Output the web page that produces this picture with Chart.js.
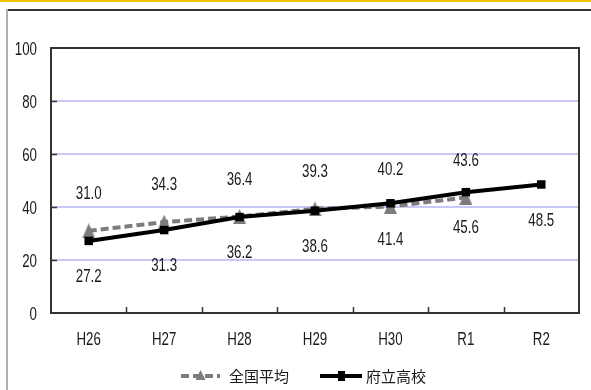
<!DOCTYPE html>
<html>
<head>
<meta charset="utf-8">
<script src="https://cdn.jsdelivr.net/npm/chart.js@4/dist/chart.umd.min.js"></script>
<style>
  html, body { margin: 0; padding: 0; background: #fff; }
  canvas { display: block; }
</style>
</head>
<body>
<canvas id="trendChart" width="591" height="390"></canvas>
<script>
// categories and series
const categories = ['H26', 'H27', 'H28', 'H29', 'H30', 'R1', 'R2'];
const nationalAvg = [31.0, 34.3, 36.4, 39.3, 40.2, 43.6, null];
const prefSchools = [27.2, 31.3, 36.2, 38.6, 41.4, 45.6, 48.5];
const yTicks = [0, 20, 40, 60, 80, 100];

const sans = "'Liberation Sans', Arial, sans-serif";
const cjk = "'Noto Sans CJK JP', 'Noto Sans CJK SC', sans-serif";
const textColor = '#1a1a1a';
const grayColor = '#7c7c7c';

// tall triangle marker like the original
const triMarker = document.createElement('canvas');
triMarker.width = 13;
triMarker.height = 15;
(function () {
    const t = triMarker.getContext('2d');
    t.fillStyle = grayColor;
    t.beginPath();
    t.moveTo(6.5, 0);
    t.lineTo(13, 15);
    t.lineTo(0, 15);
    t.closePath();
    t.fill();
})();

// the original uses a condensed face, so squeeze the text horizontally
function narrowText(c, text, x, y, align) {
    c.save();
    c.translate(x, y);
    c.scale(0.7, 1);
    c.font = '19px ' + sans;
    c.fillStyle = textColor;
    c.textAlign = align;
    c.textBaseline = 'middle';
    c.fillText(text, 0, 0);
    c.restore();
}

// frame, plot border, inside tick marks, axis labels
const framePlugin = {
    id: 'frame',
    beforeDraw(chart) {
        const c = chart.ctx;
        c.save();
        c.fillStyle = '#f2c200';
        c.fillRect(0, 0, chart.width, 2);
        c.fillStyle = '#333';
        c.fillRect(7, 9, chart.width - 7, 2);
        c.fillStyle = '#b0b0b0';
        c.fillRect(6, 9, 2, chart.height - 9);
        c.restore();
    },
    beforeDatasetsDraw(chart) {
        const c = chart.ctx;
        const a = chart.chartArea;
        const x = chart.scales.x, y = chart.scales.y;
        c.save();
        c.strokeStyle = '#333';
        c.lineWidth = 2;
        c.beginPath();
        c.moveTo(a.left, a.top);
        c.lineTo(a.right, a.top);
        c.lineTo(a.right, a.bottom);
        c.stroke();
        c.lineWidth = 1.5;
        c.beginPath();
        yTicks.slice(1, -1).forEach(v => {
            const py = Math.round(y.getPixelForValue(v)) + 0.5;
            c.moveTo(a.left, py);
            c.lineTo(a.left + 6, py);
        });
        for (let i = 0; i < categories.length - 1; i++) {
            const px = Math.round((x.getPixelForValue(i) + x.getPixelForValue(i + 1)) / 2) + 0.5;
            c.moveTo(px, a.bottom);
            c.lineTo(px, a.bottom - 6);
        }
        c.stroke();
        c.restore();

        yTicks.forEach(v => narrowText(c, String(v), a.left - 14, y.getPixelForValue(v) + 2, 'right'));
        categories.forEach((lab, i) => narrowText(c, lab, x.getPixelForValue(i), a.bottom + 27, 'center'));
    }
};

// value labels: national above, prefectural below
const labelPlugin = {
    id: 'valueLabels',
    afterDatasetsDraw(chart) {
        const offsets = [-37, 36];
        chart.data.datasets.forEach((ds, di) => {
            chart.getDatasetMeta(di).data.forEach((pt, i) => {
                if (ds.data[i] == null) return;
                narrowText(chart.ctx, ds.data[i].toFixed(1), pt.x, pt.y + offsets[di], 'center');
            });
        });
    }
};

// legend: line sample with marker, then name
const legendPlugin = {
    id: 'lineLegend',
    afterDraw(chart) {
        const c = chart.ctx;
        const ly = 376;
        const items = [
            { x0: 181, x1: 220, tx: 229, ds: chart.data.datasets[0] },
            { x0: 320, x1: 362, tx: 366, ds: chart.data.datasets[1] }
        ];
        c.save();
        items.forEach(it => {
            const ds = it.ds;
            const mx = (it.x0 + it.x1) / 2;
            c.strokeStyle = ds.borderColor;
            c.lineWidth = ds.borderWidth;
            c.setLineDash(ds.borderDash || []);
            c.beginPath();
            c.moveTo(it.x0, ly);
            c.lineTo(it.x1, ly);
            c.stroke();
            c.setLineDash([]);
            c.fillStyle = ds.pointBackgroundColor;
            if (ds.pointStyle === triMarker) {
                c.beginPath();
                c.moveTo(mx, ly - 6);
                c.lineTo(mx + 5, ly + 4);
                c.lineTo(mx - 5, ly + 4);
                c.closePath();
                c.fill();
            } else {
                c.fillRect(mx - 3, ly - 5, 7, 10);
            }
            c.font = '15px ' + cjk;
            c.fillStyle = textColor;
            c.textBaseline = 'middle';
            c.fillText(ds.label, it.tx, ly);
        });
        c.restore();
    }
};

const trendChart = new Chart(document.getElementById('trendChart').getContext('2d'), {
    type: 'line',
    data: {
        labels: categories,
        datasets: [{
            label: '全国平均',
            data: nationalAvg,
            borderColor: grayColor,
            borderWidth: 4,
            borderDash: [8, 4],
            pointStyle: triMarker,
            pointRadius: 8,
            pointBackgroundColor: grayColor,
            pointBorderWidth: 0,
            order: 2
        }, {
            label: '府立高校',
            data: prefSchools,
            borderColor: '#000000',
            borderWidth: 4,
            pointStyle: 'rect',
            pointRadius: 6,
            pointBackgroundColor: '#000000',
            pointBorderWidth: 0,
            order: 1
        }]
    },
    options: {
        responsive: false,
        animation: false,
        layout: { padding: { top: 48, right: 12, left: 0, bottom: 0 } },
        plugins: {
            legend: { display: false },
            tooltip: { enabled: false }
        },
        scales: {
            x: {
                offset: true,
                grid: { display: false, drawTicks: false },
                border: { display: true, color: '#333', width: 2 },
                ticks: { display: false },
                afterFit(scale) { scale.height = 77; }
            },
            y: {
                min: 0,
                max: 100,
                afterBuildTicks(scale) { scale.ticks = yTicks.map(v => ({ value: v })); },
                grid: {
                    drawTicks: false,
                    lineWidth: 2,
                    color: ctx => (ctx.tick && (ctx.tick.value === 0 || ctx.tick.value === 100)) ? 'rgba(0,0,0,0)' : '#c8c8f6'
                },
                border: { display: true, color: '#333', width: 2 },
                ticks: { display: false },
                afterFit(scale) { scale.width = 51; }
            }
        }
    },
    plugins: [framePlugin, labelPlugin, legendPlugin]
});
</script>
</body>
</html>
